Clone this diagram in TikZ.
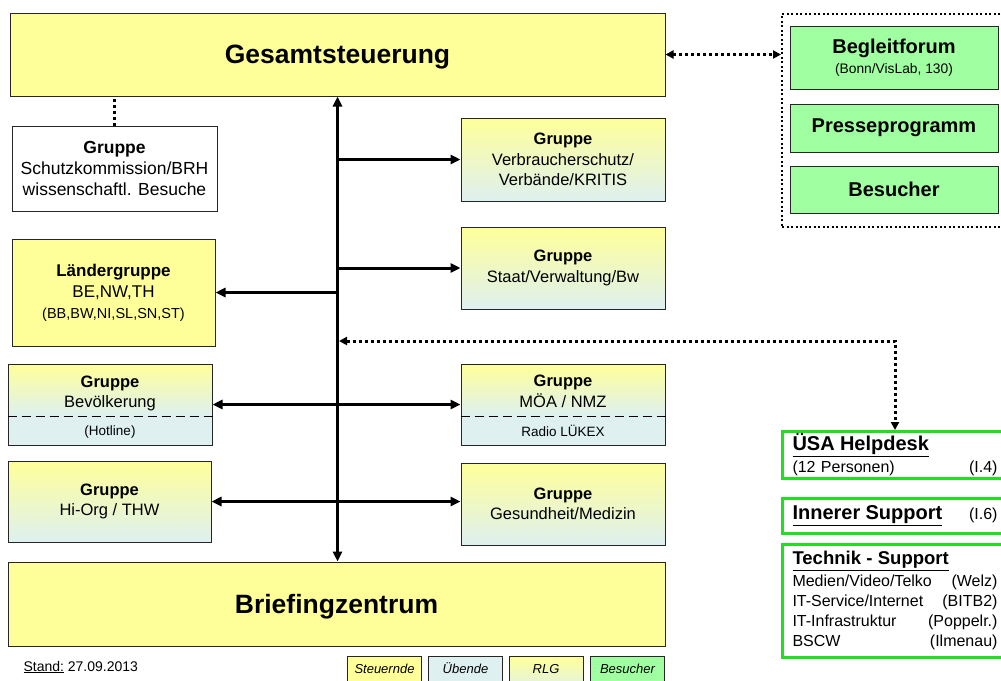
\documentclass[tikz,border=0pt]{standalone}
\usepackage{fontspec}
\setmainfont{Liberation Sans}
\usetikzlibrary{arrows.meta}

\definecolor{ylw}{RGB}{255,255,153}
\definecolor{lblue}{RGB}{222,240,240}
\definecolor{grn}{RGB}{160,255,160}
\definecolor{supgrn}{RGB}{30,225,30}
\pgfdeclareverticalshading{splitshade}{100bp}{color(0bp)=(lblue); color(43bp)=(lblue); color(75bp)=(ylw); color(100bp)=(ylw)}

\begin{document}
\begin{tikzpicture}[x=1pt, y=-1pt, >={Triangle[length=10pt,width=9pt]},
    box/.style={draw=black!85, line width=1pt, align=center, inner sep=0pt},
    steuer/.style={box, fill=ylw},
    uebend/.style={box, top color=ylw, bottom color=lblue},
    splitbox/.style={box, shade, shading=splitshade},
    besuch/.style={box, fill=grn},
    grp/.style={align=center, font=\fontsize{16.5}{20.5}\selectfont},
    smalltxt/.style={font=\fontsize{13.5}{16}\selectfont},
    bigtxt/.style={text depth=0pt, font=\fontsize{26.5}{30}\selectfont\bfseries},
    gtxt/.style={font=\fontsize{20}{24}\selectfont\bfseries},
    flow/.style={line width=3pt},
    dotline/.style={line width=3pt, dash pattern=on 3pt off 3pt},
    dotarr/.style={dotline, >={Triangle[length=8pt,width=8pt]}, <->},
    support/.style={draw=supgrn, line width=3pt, fill=white, anchor=west,
      align=left, inner xsep=10pt, inner ysep=0pt, text width=205pt,
      font=\fontsize{16}{20}\selectfont},
    legbox/.style={box, line width=0.8pt, anchor=north, minimum width=74pt,
      text height=17pt, text depth=19pt, font=\fontsize{13}{15}\selectfont\itshape}]
  \useasboundingbox (0,0) rectangle (1001,680);
  \clip (0,0) rectangle (1001,680);

  % Steuerung oben und unten
  \node[steuer, bigtxt, minimum width=655pt, minimum height=83pt] (gesamt) at (337.5,54.5) {Gesamtsteuerung};
  \node[steuer, bigtxt, minimum width=657pt, minimum height=84pt] (brief) at (336.5,604) {Briefingzentrum};

  % linke Spalte
  \node[box, fill=white, font=\fontsize{17.5}{21}\selectfont, minimum width=205pt, minimum height=85pt] (schutz) at (114.5,168.5)
    {\textbf{Gruppe}\\Schutzkommission/BRH\\wissenschaftl. Besuche};
  \node[steuer, font=\fontsize{17}{21}\selectfont, minimum width=203pt, minimum height=107pt] (laender) at (113.5,292.5)
    {\textbf{Ländergruppe}\\BE,NW,TH\\{\fontsize{14.5}{18}\selectfont(BB,BW,NI,SL,SN,ST)}};
  \node[splitbox, minimum width=204pt, minimum height=81pt] (bevoelk) at (110,404.5) {};
  \draw[dash pattern=on 9pt off 5pt, line width=0.9pt] ([yshift=-11.5pt]bevoelk.west) -- ([yshift=-11.5pt]bevoelk.east);
  \node[grp] (bevoelk-t) at (110,393.5) {\textbf{Gruppe}\\Bevölkerung};
  \node[smalltxt] (bevoelk-h) at (110,432) {(Hotline)};
  \node[uebend, grp, minimum width=203pt, minimum height=81pt] (hiorg) at (109.5,501.5)
    {\textbf{Gruppe}\\Hi-Org / THW};

  % rechte Spalte
  \node[uebend, grp, minimum width=204pt, minimum height=83pt] (verbr) at (563,159.5)
    {\textbf{Gruppe}\\Verbraucherschutz/\\Verbände/KRITIS};
  \node[uebend, grp, minimum width=204pt, minimum height=82pt] (staat) at (563,268)
    {\textbf{Gruppe}\\Staat/Verwaltung/Bw};
  \node[splitbox, minimum width=204pt, minimum height=81pt] (moea) at (563,404.5) {};
  \draw[dash pattern=on 9pt off 5pt, line width=0.9pt] ([yshift=-11.5pt]moea.west) -- ([yshift=-11.5pt]moea.east);
  \node[grp] (moea-t) at (563,391.5) {\textbf{Gruppe}\\MÖA / NMZ};
  \node[smalltxt] (moea-r) at (563,431) {Radio LÜKEX};
  \node[uebend, grp, minimum width=204pt, minimum height=82pt] (gesund) at (563,504)
    {\textbf{Gruppe}\\Gesundheit/Medizin};

  % Besucher
  \node[draw, line width=2pt, dash pattern=on 2pt off 2.5pt, inner sep=0pt, anchor=north west,
        minimum width=232pt, minimum height=213pt] (bframe) at (781,13) {};
  \node[besuch, minimum width=208pt, minimum height=63pt] (begleit) at (894,58)
    {{\fontsize{20}{22}\selectfont\bfseries Begleitforum}\\[5pt]{\fontsize{13.8}{16}\selectfont(Bonn/VisLab, 130)}};
  \node[besuch, gtxt, minimum width=208pt, minimum height=48pt] (presse) at (894,128) {Presseprogramm};
  \node[besuch, gtxt, minimum width=208pt, minimum height=47pt] (besucher) at (894,189.5) {Besucher};

  % Support
  \node[support, minimum height=47pt] (usa) at (781,455)
    {{\fontsize{20}{22}\selectfont\bfseries\underline{ÜSA Helpdesk}}\\[2pt](12 Personen)\hfill(I.4)};
  \node[support, minimum height=35pt] (inner) at (781,515.5)
    {{\fontsize{20}{22}\selectfont\bfseries\underline{Innerer Support}}\hfill(I.6)};
  \node[support, minimum height=113pt] (technik) at (781,600.5)
    {{\fontsize{18.5}{20}\selectfont\bfseries\underline{Technik - Support}}\\[2pt]
     Medien/Video/Telko\hfill(Welz)\\IT-Service/Internet\hfill(BITB2)\\
     IT-Infrastruktur\hfill(Poppelr.)\\BSCW\hfill(Ilmenau)};

  % Verbindungen
  \draw[flow, <->] (gesamt.south) -- (gesamt.south |- brief.north);
  \draw[flow, ->] (verbr.west -| gesamt.south) -- (verbr.west);
  \draw[flow, ->] (staat.west -| gesamt.south) -- (staat.west);
  \draw[flow, ->] (laender.east -| gesamt.south) -- (laender.east);
  \draw[flow, <->] (bevoelk.east) -- (moea.west);
  \draw[flow, <->] (hiorg.east) -- (hiorg.east -| gesund.west);
  \draw[dotline] (schutz.north) -- (schutz.north |- gesamt.south);
  \draw[dotarr] (gesamt.east) -- (gesamt.east -| bframe.west);
  \coordinate (hub) at (339,341);
  \draw[dotarr] (hub) -| (usa.north);

  % Legende
  \node[anchor=west, font=\fontsize{14}{16}\selectfont] (stand) at (20,667) {\underline{Stand:} 27.09.2013};
  \node[legbox, fill=ylw] (leg-st) at (384.5,656) {Steuernde};
  \node[legbox, fill=lblue] (leg-ue) at (465.5,656) {Übende};
  \node[legbox, top color=ylw, bottom color=lblue] (leg-rlg) at (546,656) {RLG};
  \node[legbox, fill=grn] (leg-bs) at (627.5,656) {Besucher};
\end{tikzpicture}
\end{document}
